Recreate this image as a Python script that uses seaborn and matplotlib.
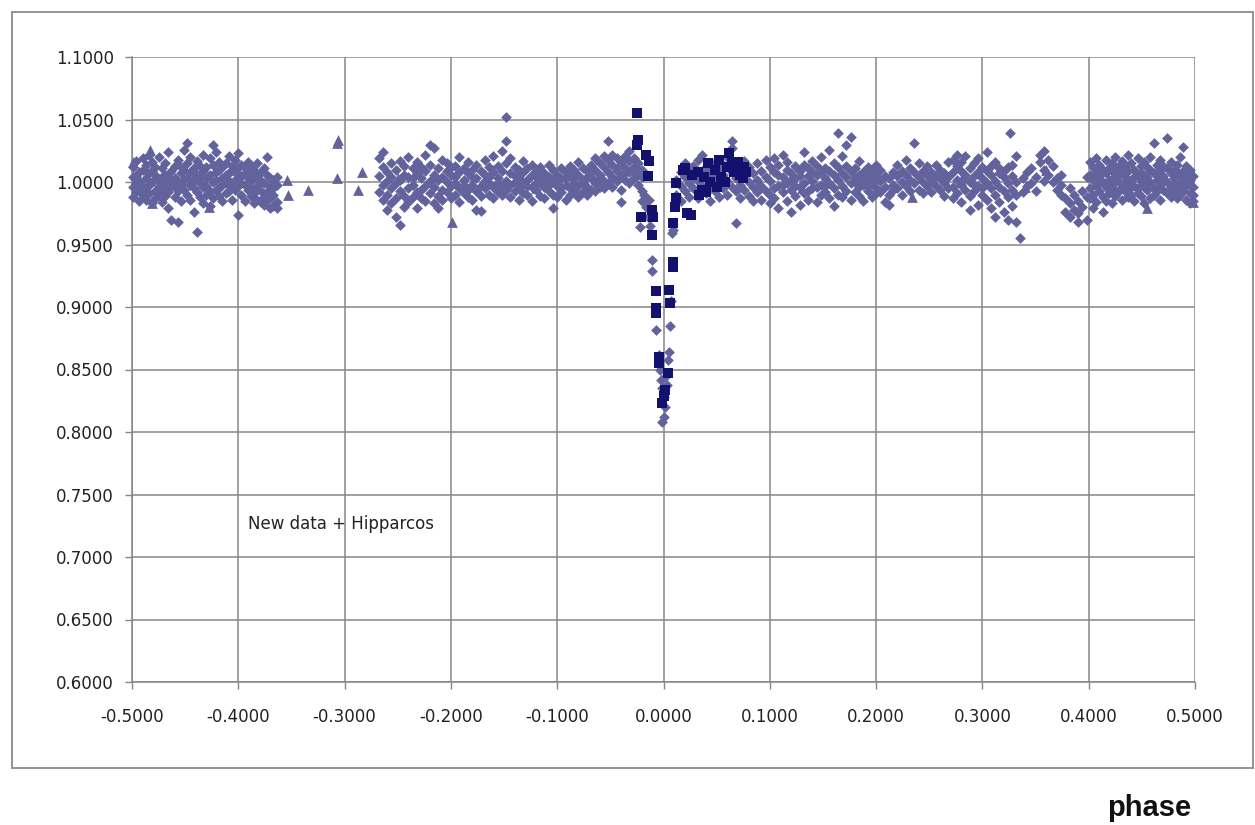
import matplotlib
matplotlib.use("Agg")
import matplotlib.pyplot as plt
from matplotlib.patches import Rectangle
from matplotlib.ticker import FormatStrFormatter, MultipleLocator
import seaborn as sns
import pandas as pd

# ---------------- data ----------------
# light series: phase -> list of relative flux values
seg_a = {
    -0.499: [1.012, 0.996, 0.988, 1.004], -0.496: [1.005, 0.992, 1.017, 0.999],
    -0.493: [0.994, 1.008, 0.985, 1.001], -0.490: [1.010, 0.997, 0.990, 1.019],
    -0.487: [1.003, 0.986, 1.014, 0.995], -0.484: [0.998, 1.022, 0.991, 1.007],
    -0.481: [1.009, 0.983, 1.000, 1.016], -0.478: [0.993, 1.006, 1.012, 0.987],
    -0.475: [1.002, 0.990, 1.020, 0.997], -0.472: [1.011, 0.995, 0.984, 1.004],
    -0.469: [0.999, 1.015, 0.989, 1.006], -0.466: [1.004, 0.992, 1.024, 0.979],
    -0.463: [0.996, 1.009, 1.001, 0.970], -0.460: [1.013, 0.988, 1.003, 0.997],
    -0.457: [1.000, 0.993, 1.018, 0.968], -0.454: [1.007, 0.985, 0.998, 1.012],
    -0.451: [0.994, 1.010, 1.026, 1.002], -0.448: [1.003, 0.990, 1.015, 1.031],
    -0.445: [0.998, 1.008, 0.986, 1.020], -0.442: [1.011, 0.995, 1.002, 0.976],
    -0.439: [0.992, 1.006, 1.017, 0.960], -0.436: [1.004, 0.988, 0.999, 1.013],
    -0.433: [1.009, 0.996, 0.983, 1.022], -0.430: [0.997, 1.012, 1.003, 0.990],
    -0.427: [1.006, 0.993, 1.019, 0.981], -0.424: [1.000, 1.014, 0.987, 1.030],
    -0.421: [1.008, 0.994, 1.024, 1.002], -0.418: [0.995, 1.010, 0.989, 1.016],
    -0.415: [1.003, 0.985, 1.012, 0.998], -0.412: [1.015, 0.999, 0.991, 1.006],
    -0.409: [0.993, 1.007, 1.021, 1.001], -0.406: [1.010, 0.996, 0.986, 1.013],
    -0.403: [1.002, 1.018, 0.994, 1.008], -0.400: [0.997, 1.011, 1.023, 0.974],
    -0.397: [1.005, 0.990, 1.014, 0.999], -0.394: [1.012, 0.998, 0.985, 1.007],
    -0.391: [0.994, 1.009, 1.003, 1.016], -0.388: [1.001, 0.989, 1.013, 0.995],
    -0.385: [0.991, 1.006, 0.983, 1.010], -0.382: [1.004, 0.986, 0.997, 1.015],
    -0.379: [0.993, 1.008, 0.984, 1.001], -0.376: [0.999, 0.988, 1.011, 0.982],
    -0.373: [1.006, 0.992, 1.020, 0.986], -0.370: [0.996, 1.003, 0.987, 0.979],
    -0.367: [1.002, 0.990, 0.981, 0.995], -0.364: [0.998, 0.984, 1.004, 0.979],
}
seg_b = {
    -0.268: [1.005, 0.992, 1.019], -0.264: [0.998, 1.012, 0.986, 1.024],
    -0.260: [1.008, 0.990, 1.001, 0.978], -0.256: [0.995, 1.015, 0.983, 1.004],
    -0.252: [1.010, 0.987, 0.999, 0.972], -0.248: [1.002, 0.993, 1.017, 0.966],
    -0.244: [0.989, 1.006, 0.980, 1.013], -0.240: [1.004, 0.995, 1.020, 0.984],
    -0.236: [0.998, 1.011, 0.988, 1.003], -0.232: [1.007, 0.992, 1.016, 0.979],
    -0.228: [0.994, 1.003, 1.012, 0.987], -0.224: [1.009, 0.997, 0.985, 1.022],
    -0.220: [1.001, 1.014, 0.991, 1.030], -0.216: [0.996, 1.006, 0.983, 1.027],
    -0.212: [1.011, 0.989, 1.002, 0.979], -0.208: [1.004, 0.994, 1.018, 0.986],
    -0.204: [0.992, 1.009, 1.000, 1.015], -0.200: [1.006, 0.987, 0.997, 1.012],
    -0.196: [0.999, 1.013, 0.990, 1.004], -0.192: [1.008, 0.995, 1.020, 0.984],
    -0.188: [1.002, 0.991, 1.011, 0.998], -0.184: [0.994, 1.007, 1.016, 0.988],
    -0.180: [1.010, 0.998, 0.986, 1.004], -0.176: [1.003, 0.993, 1.014, 0.978],
    -0.172: [0.997, 1.009, 0.989, 0.977], -0.168: [1.006, 0.995, 1.018, 1.001],
    -0.164: [1.012, 0.999, 0.990, 1.004], -0.160: [0.996, 1.008, 1.021, 0.987],
    -0.156: [1.003, 0.992, 1.013, 0.999], -0.152: [1.009, 0.997, 1.025, 0.990],
    -0.148: [1.001, 1.015, 0.994, 1.033, 1.052], -0.144: [0.998, 1.007, 0.988, 1.019],
    -0.140: [1.005, 0.993, 1.012, 1.000], -0.136: [0.995, 1.010, 1.003, 0.986],
    -0.132: [1.008, 0.999, 1.017, 0.991], -0.128: [1.002, 0.990, 1.011, 0.997],
    -0.124: [0.996, 1.006, 0.985, 1.014], -0.120: [1.004, 0.994, 1.009, 0.999],
    -0.116: [0.999, 1.012, 0.989, 1.005], -0.112: [1.007, 0.996, 1.002, 0.987],
    -0.108: [0.993, 1.004, 1.014, 0.998], -0.104: [1.001, 0.990, 0.979, 1.010],
    -0.100: [0.997, 1.006, 0.988, 1.002], -0.096: [1.003, 0.992, 1.011, 0.996],
    -0.092: [0.998, 1.008, 0.986, 1.003], -0.088: [1.005, 0.995, 1.013, 0.990],
    -0.084: [0.999, 1.010, 0.993, 1.003], -0.080: [1.006, 0.997, 1.016, 0.988],
    -0.076: [1.002, 0.992, 1.011, 0.999], -0.072: [1.009, 0.996, 1.004, 0.990],
    -0.068: [1.004, 1.014, 0.994, 1.008], -0.064: [1.010, 0.999, 1.019, 0.993],
    -0.060: [1.006, 1.015, 0.996, 1.003], -0.056: [1.012, 1.001, 1.021, 0.995],
    -0.052: [1.008, 1.018, 0.999, 1.033], -0.048: [1.014, 1.004, 1.022, 0.996],
    -0.044: [1.009, 1.019, 1.001, 1.011], -0.040: [1.016, 1.005, 0.994, 0.984],
    -0.036: [1.011, 1.021, 1.002, 1.007], -0.032: [1.017, 1.008, 1.025, 0.999],
    -0.028: [1.012, 1.003, 1.019, 1.008], -0.024: [1.015, 1.006, 0.998, 1.010],
    -0.020: [1.004, 0.993, 0.985, 1.010],
}
seg_dip = {
    -0.022: [0.964], -0.018: [0.990], -0.016: [0.980], -0.015: [0.972],
    -0.014: [0.986], -0.013: [0.965], -0.011: [0.938, 0.929],
    -0.007: [0.882], -0.004: [0.862], -0.003: [0.850], -0.002: [0.842],
    -0.001: [0.835, 0.808], 0.000: [0.828, 0.812], 0.001: [0.820],
    0.002: [0.845], 0.003: [0.838], 0.004: [0.858], 0.005: [0.864],
    0.006: [0.885], 0.007: [0.905], 0.008: [0.959], 0.009: [0.962],
}
seg_c = {
    0.012: [0.990, 1.002], 0.016: [0.985, 1.008, 0.997], 0.020: [1.004, 0.993, 1.015],
    0.024: [0.999, 1.010, 0.988], 0.028: [1.006, 0.995, 1.013], 0.032: [1.001, 0.987, 1.018],
    0.036: [1.008, 0.997, 1.022], 0.040: [1.003, 0.991, 1.012], 0.044: [0.996, 1.007, 0.985],
    0.048: [1.004, 0.993, 1.016], 0.052: [0.999, 1.010, 0.988], 0.056: [1.006, 0.995, 1.014],
    0.060: [1.001, 0.990, 1.020], 0.064: [1.008, 0.996, 1.027, 1.033], 0.068: [1.003, 0.993, 0.967],
    0.072: [0.998, 1.011, 0.987], 0.076: [1.005, 0.994, 1.017], 0.080: [1.000, 1.012, 0.989],
    0.084: [1.007, 0.996, 0.985], 0.088: [1.002, 1.015, 0.992], 0.092: [0.997, 1.009, 0.986],
    0.096: [1.004, 0.993, 1.018],
}
seg_d = {
    0.100: [1.001, 0.990, 1.012, 0.983], 0.104: [1.008, 0.995, 1.019, 0.987],
    0.108: [0.997, 1.006, 0.979, 1.014], 0.112: [1.004, 0.992, 1.022, 0.998],
    0.116: [1.010, 0.999, 0.985, 1.016], 0.120: [0.994, 1.007, 1.002, 0.976],
    0.124: [1.003, 0.989, 1.013, 0.997], 0.128: [1.009, 0.996, 0.982, 1.005],
    0.132: [0.999, 1.014, 0.991, 1.024], 0.136: [1.005, 0.993, 1.011, 0.986],
    0.140: [1.001, 1.017, 0.995, 1.008], 0.144: [0.996, 1.006, 0.984, 1.013],
    0.148: [1.008, 0.998, 1.020, 0.990], 0.152: [1.003, 0.992, 1.011, 0.997],
    0.156: [0.999, 1.009, 0.987, 1.026], 0.160: [1.006, 0.995, 1.015, 0.981],
    0.164: [1.002, 1.012, 0.990, 1.039], 0.168: [0.997, 1.007, 1.021, 0.988],
    0.172: [1.004, 0.993, 1.013, 1.030], 0.176: [1.009, 0.999, 0.986, 1.036],
    0.180: [1.000, 1.011, 0.992, 1.004], 0.184: [1.006, 0.996, 1.017, 0.989],
    0.188: [0.998, 1.008, 0.985, 1.002], 0.192: [1.004, 0.993, 1.012, 0.997],
    0.196: [0.999, 1.009, 0.988, 1.003], 0.200: [1.005, 0.995, 1.014, 0.991],
}
seg_e = {
    0.204: [1.001, 0.992, 1.010], 0.208: [0.996, 1.005, 0.984], 0.212: [1.003, 0.990, 0.982],
    0.216: [0.998, 1.008, 0.994], 0.220: [1.005, 0.995, 1.014], 0.224: [1.000, 0.990, 1.009],
    0.228: [1.006, 0.997, 1.018], 0.232: [1.002, 0.993, 1.011], 0.236: [0.999, 1.031, 1.008],
    0.240: [1.004, 0.994, 1.015], 0.244: [1.000, 1.009, 0.991], 0.248: [1.006, 0.997, 1.013],
    0.252: [1.001, 0.992, 1.008], 0.256: [0.997, 1.005, 1.014], 0.260: [1.003, 0.994, 1.010],
    0.264: [0.999, 1.007, 0.989], 0.268: [1.004, 0.995, 1.016],
}
seg_f = {
    0.272: [1.008, 0.996, 1.018, 0.987], 0.276: [1.002, 1.013, 0.991, 1.022],
    0.280: [0.998, 1.009, 0.984, 1.016], 0.284: [1.006, 0.994, 1.021, 1.003],
    0.288: [1.000, 1.011, 0.989, 0.978], 0.292: [1.005, 0.993, 1.015, 0.998],
    0.296: [0.997, 1.008, 0.982, 1.019], 0.300: [1.003, 0.990, 1.012, 0.995],
    0.304: [0.999, 1.009, 0.986, 1.024], 0.308: [1.006, 0.995, 0.979, 1.013],
    0.312: [1.001, 1.016, 0.990, 0.972], 0.316: [0.996, 1.007, 0.984, 1.011],
    0.320: [1.004, 0.993, 0.976, 1.009], 0.324: [0.999, 1.012, 0.988, 0.970],
    0.326: [1.039], 0.328: [1.005, 0.994, 1.014, 0.981],
    0.332: [1.000, 1.021, 0.968, 0.990], 0.335: [0.955],
}
seg_g = {
    0.338: [1.003, 0.992], 0.342: [1.008, 0.997], 0.346: [0.999, 1.011],
    0.350: [1.004, 0.993], 0.354: [1.016, 1.022], 0.358: [1.010, 1.025, 1.001],
    0.362: [1.018, 1.006], 0.366: [1.013, 1.000], 0.370: [1.003, 0.994],
    0.374: [0.998, 0.990, 1.006], 0.378: [0.987, 0.976], 0.382: [0.983, 0.972, 0.995],
    0.386: [0.990, 0.978], 0.390: [0.968, 0.985, 0.975], 0.394: [0.993, 0.980],
    0.398: [0.970, 0.988, 1.004],
}
seg_h = {
    0.401: [1.006, 0.995, 1.016, 0.987], 0.404: [1.002, 1.012, 0.990, 0.979],
    0.407: [0.997, 1.008, 0.984, 1.019], 0.410: [1.005, 0.993, 1.014, 0.999],
    0.413: [1.000, 1.010, 0.988, 0.976], 0.416: [1.007, 0.996, 1.018, 0.985],
    0.419: [1.002, 0.991, 1.011, 0.997], 0.422: [0.998, 1.009, 0.983, 1.015],
    0.425: [1.005, 0.994, 1.020, 0.989], 0.428: [1.001, 1.012, 0.992, 1.006],
    0.431: [0.996, 1.007, 0.986, 1.017], 0.434: [1.004, 0.993, 1.013, 0.999],
    0.437: [1.009, 0.998, 0.988, 1.022], 0.440: [1.002, 0.990, 1.015, 0.996],
    0.443: [0.997, 1.010, 0.985, 1.004], 0.446: [1.006, 0.995, 1.019, 0.991],
    0.449: [1.001, 1.013, 0.989, 1.007], 0.452: [0.996, 1.006, 0.983, 1.016],
    0.455: [1.004, 0.994, 1.012, 0.999], 0.458: [1.000, 1.010, 0.987, 1.020],
    0.461: [1.007, 0.995, 1.031, 0.990], 0.464: [1.002, 1.014, 0.993, 1.008],
    0.467: [0.998, 1.009, 0.986, 1.018], 0.470: [1.005, 0.994, 1.013, 1.001],
    0.474: [1.000, 1.035, 0.991, 1.011], 0.477: [1.007, 0.996, 1.016, 0.988],
    0.480: [1.003, 0.992, 1.010, 0.998], 0.483: [0.998, 1.008, 0.987, 1.014],
    0.486: [1.004, 0.995, 1.020, 0.990], 0.489: [1.000, 1.028, 0.993, 1.009],
    0.492: [1.006, 0.997, 0.986, 1.013], 0.495: [1.002, 0.991, 1.010, 0.983],
    0.498: [0.996, 1.005, 0.985, 0.990],
}

# Hipparcos (triangles)
hip_phase = [-0.499, -0.483, -0.481, -0.470, -0.428, -0.440, -0.400, -0.354, -0.353,
             -0.334, -0.307, -0.306, -0.307, -0.284, -0.287, -0.250, -0.199, -0.160,
             -0.120, -0.070, 0.030, 0.046, 0.090, 0.130, 0.234, 0.280, 0.340, 0.360,
             0.420, 0.455, 0.498]
hip_flux = [1.016, 1.026, 0.983, 0.993, 0.980, 1.008, 1.004, 1.002, 0.990,
            0.994, 1.031, 1.034, 1.003, 1.008, 0.994, 1.003, 0.968, 1.010,
            0.995, 1.005, 1.005, 0.998, 1.000, 0.995, 0.988, 1.002, 0.996, 1.010,
            0.998, 0.979, 0.984]

# New data near the eclipse (dark squares)
new_phase = [-0.025, -0.024, -0.025, -0.016, -0.014, -0.015, -0.011, -0.010, -0.021,
             -0.011, 0.0085, 0.0085, 0.009, -0.0075, 0.0056, 0.006, -0.007, -0.007,
             -0.004, -0.004, 0.004, 0.001, -0.001, 0.000,
             0.012, 0.011, 0.022, 0.026, 0.018, 0.020, 0.012, 0.027, 0.032, 0.038,
             0.036, 0.040, 0.044, 0.048, 0.050, 0.054, 0.058, 0.060, 0.062, 0.066,
             0.069, 0.072, 0.075, 0.078, 0.076, 0.033, 0.042, 0.052, 0.064, 0.070]
new_flux = [1.055, 1.034, 1.030, 1.022, 1.017, 1.005, 0.978, 0.972, 0.972,
            0.958, 0.967, 0.936, 0.932, 0.913, 0.914, 0.903, 0.899, 0.895,
            0.860, 0.855, 0.847, 0.834, 0.823, 0.829,
            0.987, 0.980, 0.975, 0.974, 1.010, 1.011, 0.999, 1.006, 1.008, 1.004,
            0.994, 0.992, 1.000, 1.010, 0.996, 1.004, 1.000, 1.012, 1.023, 1.008,
            1.010, 1.006, 1.003, 1.008, 1.012, 0.990, 1.015, 1.018, 1.015, 1.016]

x_ticks = [-0.5, -0.4, -0.3, -0.2, -0.1, 0.0, 0.1, 0.2, 0.3, 0.4, 0.5]
annotation = "New data + Hipparcos"
x_title = "phase"

# ---------------- build tables ----------------
rows = []
for seg in (seg_a, seg_b, seg_dip, seg_c, seg_d, seg_e, seg_f, seg_g, seg_h):
    for ph, fl in seg.items():
        for v in fl:
            rows.append((ph, v))
light = pd.DataFrame(rows, columns=["phase", "flux"])
hip = pd.DataFrame({"phase": hip_phase, "flux": hip_flux})
new = pd.DataFrame({"phase": new_phase, "flux": new_flux})

# ---------------- figure ----------------
sns.set_theme(style="white")
plt.rcParams["font.family"] = ["DejaVu Sans"]
plt.rcParams["axes.unicode_minus"] = False

fig = plt.figure(figsize=(12.55, 8.25), dpi=100)
fig.patch.set_facecolor("white")
fig.patches.append(Rectangle((12 / 1255, 1 - 768 / 825), 1241 / 1255, 756 / 825,
                             transform=fig.transFigure, fill=False,
                             edgecolor="#8a8a8a", linewidth=1.3))
ax = fig.add_axes([132 / 1255, 1 - 682 / 825, 1063 / 1255, 625 / 825])

light_c = "#62629c"
dark_c = "#12126e"
sns.scatterplot(data=light, x="phase", y="flux", ax=ax, marker="D", s=30,
                color=light_c, linewidth=0, zorder=3, clip_on=False)
sns.scatterplot(data=hip, x="phase", y="flux", ax=ax, marker="^", s=60,
                color=light_c, linewidth=0, zorder=3, clip_on=False)
sns.scatterplot(data=new, x="phase", y="flux", ax=ax, marker="s", s=48,
                color=dark_c, linewidth=0, zorder=4)

ax.set_xlim(-0.5, 0.5)
ax.set_ylim(0.6, 1.1)
ax.set_xticks(x_ticks)
ax.yaxis.set_major_locator(MultipleLocator(0.05))
ax.xaxis.set_major_formatter(FormatStrFormatter("%.4f"))
ax.yaxis.set_major_formatter(FormatStrFormatter("%.4f"))
ax.grid(True, color="#868686", linewidth=1.1)
ax.set_axisbelow(True)
for side in ("top", "right"):
    ax.spines[side].set_visible(False)
for side in ("left", "bottom"):
    ax.spines[side].set_color("#868686")
    ax.spines[side].set_linewidth(1.1)
ax.tick_params(axis="x", length=5, width=1, color="#868686", pad=14,
               labelsize=12, labelcolor="#222222", direction="out", bottom=True)
ax.tick_params(axis="y", length=5, width=1, color="#868686", pad=8,
               labelsize=12, labelcolor="#222222", direction="out", left=True)
ax.set_xlabel("")
ax.set_ylabel("")

ax.text(-0.391, 0.7264, annotation, fontsize=12, color="#222222",
        ha="left", va="center")
fig.text(1149 / 1255, 1 - 808 / 825, x_title, fontsize=21, fontweight="bold",
         family="Liberation Sans", ha="center", va="center", color="#111111")

fig.savefig("out.png", dpi=100, facecolor="white")
